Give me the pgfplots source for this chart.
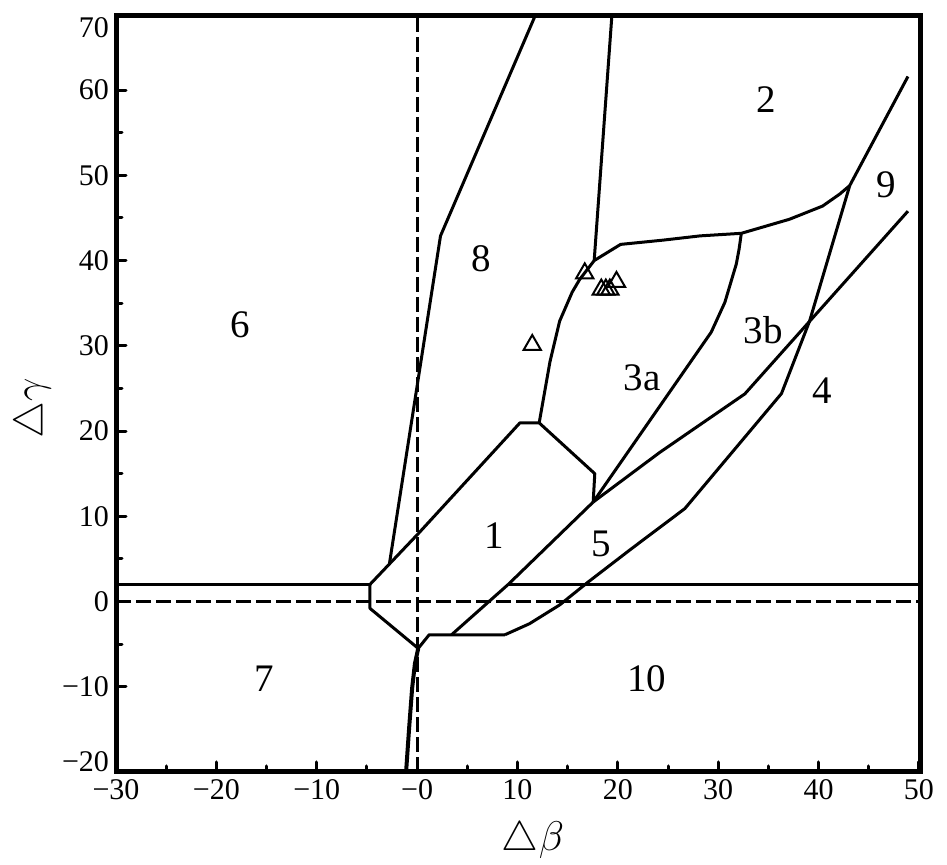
\documentclass[border=0pt]{standalone}
\usepackage{fontspec}
\setmainfont{Liberation Serif}
\usepackage{pgfplots}
\pgfplotsset{compat=1.18}

\begin{document}
\begin{tikzpicture}
\useasboundingbox (0,0) rectangle (473.5pt,432.5pt);
\begin{axis}[
    at={(58pt,46.5pt)}, anchor=south west,
    scale only axis,
    width=402.5pt, height=378pt,
    xmin=-30, xmax=50.2,
    ymin=-20, ymax=68.7,
    xtick={-30,-20,...,50},
    xticklabels={−30,−20,−10,−0,10,20,30,40,50},
    ytick={-10,0,...,60},
    yticklabels={−10,0,10,20,30,40,50,60},
    extra y ticks={-18.8,67.3},
    extra y tick labels={−20,70},
    extra y tick style={major tick length=0pt},
    minor x tick num=1, minor y tick num=1,
    tick align=inside,
    xtick pos=bottom, ytick pos=left,
    major tick length=5pt, minor tick length=3pt,
    every tick/.style={black, line width=1.5pt, line cap=round},
    axis line style={line width=2.5pt},
    tick label style={font=\fontsize{15}{18}\selectfont},
    xlabel={$\triangle\beta$},
    ylabel={$\triangle\gamma$},
    label style={font=\fontsize{20}{24}\selectfont, inner sep=0pt},
    xlabel style={at={(axis description cs:0.518,-0.09)}, anchor=center},
    ylabel style={at={(axis description cs:-0.104,0.481)}, anchor=center},
    bd/.style={black, solid, line width=1.5pt, line join=round, mark=none},
    dl/.style={black, line width=1.5pt, mark=none, dash pattern=on 7.5pt off 2.5pt},
]
% reference lines
\addplot[dl] coordinates {(-30,0) (50.2,0)};
\addplot[dl] coordinates {(0,-20) (0,68.7)};
\addplot[bd] coordinates {(-30,2) (-4.7,2)};
\addplot[bd] coordinates {(9.07,2) (50.2,2)};

% boundaries
\addplot[bd] coordinates {(11.75,68.7) (2.33,42.9) (-2.75,4.5)};
\addplot[bd] coordinates {(19.4,68.7) (17.64,40.0)};
\addplot[bd] coordinates {(12.16,20.96) (13.23,28.1) (14.2,32.9) (15.45,36.3) (16.2,37.8)
    (17.64,40.0) (20.27,41.9) (24.5,42.4) (28.2,42.9) (32.3,43.2) (37.1,44.85)
    (40.4,46.4) (42.1,47.8) (43.1,48.8) (48.9,61.6)};
\addplot[bd] coordinates {(32.3,43.2) (32.07,41.3) (31.8,39.6) (30.66,35.1) (29.3,31.6) (17.54,11.67)};
\addplot[bd] coordinates {(43.1,48.8) (39.1,32.9) (36.3,24.4) (26.67,10.9) (21.36,6.2)
    (17.05,2.3) (14.2,-0.4) (11.2,-2.6) (8.75,-3.9)};
\addplot[bd] coordinates {(48.9,45.8) (32.65,24.36) (24.18,17.5) (17.54,11.67)};
\addplot[bd] coordinates {(17.54,11.67) (9.07,2) (3.43,-3.9)};
\addplot[bd] coordinates {(-4.7,2) (0.11,7.96) (10.24,20.96) (12.16,20.96) (17.7,15.0) (17.54,11.67)};
\addplot[bd] coordinates {(-4.7,2) (-4.7,-0.8) (0.11,-5.5) (1.2,-3.9) (8.75,-3.9)};
\addplot[bd, line width=2pt] coordinates {(0.11,-5.5) (-0.22,-7.3) (-0.5,-10.2) (-0.8,-14.9) (-1.1,-20)};

% measured points
\addplot[black, only marks, mark=triangle, mark size=5pt, mark options={solid, line width=1pt}]
    coordinates {(16.7,38.5) (11.47,30.1) (18.35,36.6) (18.8,36.6) (19.2,36.6) (19.86,37.5)};

% region labels
\begin{scope}[font=\fontsize{19.5}{22}\selectfont]
\node at (axis cs:-17.65,32.5) {6};
\node at (axis cs:6.35,40.2) {8};
\node at (axis cs:34.8,58.9) {2};
\node at (axis cs:46.7,48.9) {9};
\node at (axis cs:34.5,31.8) {3b};
\node at (axis cs:22.4,26.3) {3a};
\node at (axis cs:40.4,24.7) {4};
\node at (axis cs:7.65,7.7) {1};
\node at (axis cs:18.3,6.8) {5};
\node at (axis cs:-15.2,-9.0) {7};
\node at (axis cs:22.9,-9.0) {10};
\end{scope}
\end{axis}
\end{tikzpicture}
\end{document}
